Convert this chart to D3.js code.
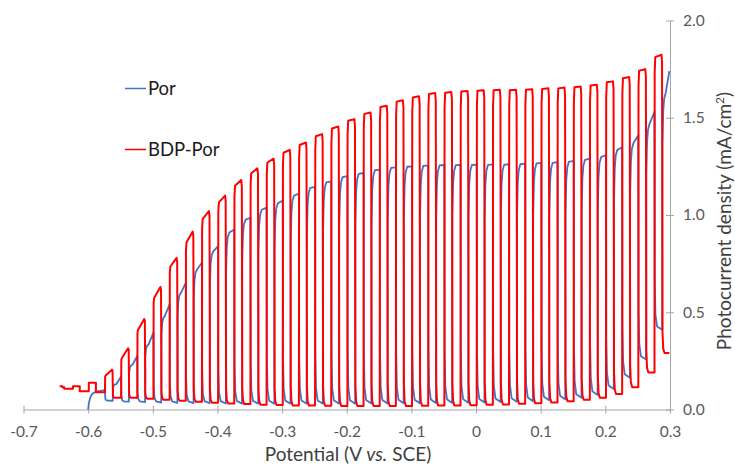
<!DOCTYPE html>
<html><head><meta charset="utf-8">
<script src="https://cdn.jsdelivr.net/npm/d3@7"></script>
<style>
body{margin:0;background:#fff}
svg{display:block}
text{font-family:Lato,"Liberation Sans",sans-serif}
</style>
</head><body>
<svg id="chart" width="735" height="464"></svg>
<script>
// ---------- data ----------
const xTicks = [-0.7, -0.6, -0.5, -0.4, -0.3, -0.2, -0.1, 0, 0.1, 0.2, 0.3];
const xTickLabels = ["-0.7","-0.6","-0.5","-0.4","-0.3","-0.2","-0.1","0","0.1","0.2","0.3"];
const yTicks = [0, 0.5, 1.0, 1.5, 2.0];
const yTickLabels = ["0.0","0.5","1.0","1.5","2.0"];
const seriesNames = ["Por", "BDP-Por"];
const seriesColors = ["#4472C4", "#FF0000"];
const scanEnd = 0.299;

// chopped light: potentials (V vs SCE) where the BDP-Por light pulse turns on / off
const chopOn = [-0.574,-0.549,-0.524,-0.499,-0.474,-0.449,-0.424,-0.399,-0.374,-0.349,
  -0.324,-0.299,-0.274,-0.249,-0.224,-0.199,-0.174,-0.149,-0.124,-0.099,
  -0.074,-0.049,-0.024,0.001,0.026,0.051,0.076,0.101,0.126,0.151,
  0.176,0.201,0.226,0.251,0.276];
const chopOff = [-0.562,-0.537,-0.512,-0.487,-0.462,-0.437,-0.412,-0.387,-0.362,-0.337,
  -0.312,-0.287,-0.262,-0.237,-0.212,-0.187,-0.162,-0.137,-0.112,-0.087,
  -0.062,-0.037,-0.012,0.013,0.038,0.063,0.088,0.113,0.138,0.163,
  0.188,0.213,0.238,0.263,0.288];

// BDP-Por (red): leading dark trace, then photocurrent at start / end of each light pulse, dark current after it
const redLeadE = [-0.644,-0.640,-0.637,-0.6235,-0.613,-0.599,-0.588];
const redLeadJ = [0.120,0.115,0.107,0.120,0.094,0.138,0.089];
const redTopStart = [0.175,0.265,0.410,0.575,0.735,0.860,0.980,1.065,1.150,1.215,
  1.270,1.320,1.360,1.405,1.445,1.485,1.520,1.555,1.583,1.604,
  1.622,1.628,1.635,1.639,1.641,1.641,1.644,1.648,1.651,1.657,
  1.666,1.682,1.703,1.742,1.812];
const redTopEnd = [0.205,0.315,0.465,0.630,0.780,0.915,1.020,1.100,1.180,1.240,
  1.290,1.335,1.373,1.416,1.455,1.493,1.527,1.562,1.590,1.610,
  1.627,1.632,1.638,1.642,1.644,1.644,1.647,1.652,1.655,1.661,
  1.670,1.687,1.709,1.750,1.824];
const redDark = [0.060,0.060,0.055,0.050,0.045,0.040,0.035,0.031,0.028,0.025,
  0.023,0.021,0.020,0.019,0.018,0.018,0.018,0.018,0.018,0.019,
  0.020,0.021,0.022,0.024,0.026,0.029,0.032,0.036,0.042,0.050,
  0.060,0.080,0.115,0.190,0.290];

// Por (blue): leading trace, dark current while the red pulse is on, photocurrent at start / end of each of its own pulses
const blueLeadE = [-0.600,-0.599,-0.597,-0.594,-0.588,-0.574];
const blueLeadJ = [0.000,0.030,0.060,0.080,0.092,0.100];
const blueDark = [0.045,0.040,0.038,0.036,0.034,0.033,0.032,0.031,0.030,0.030,
  0.030,0.030,0.030,0.030,0.030,0.030,0.031,0.031,0.032,0.032,
  0.033,0.034,0.035,0.036,0.038,0.040,0.043,0.047,0.052,0.060,
  0.075,0.105,0.163,0.257,0.410];
const blueTopStart = [0.130,0.230,0.335,0.480,0.600,0.720,0.813,0.910,0.976,1.027,
  1.060,1.100,1.140,1.168,1.195,1.212,1.230,1.242,1.248,1.253,
  1.255,1.256,1.257,1.258,1.259,1.261,1.265,1.268,1.273,1.284,
  1.298,1.335,1.370,1.470,1.630];
const blueTopEnd = [0.170,0.275,0.395,0.540,0.651,0.755,0.840,0.925,0.986,1.038,
  1.075,1.110,1.145,1.173,1.200,1.216,1.233,1.245,1.250,1.255,
  1.257,1.258,1.259,1.260,1.261,1.264,1.268,1.272,1.278,1.290,
  1.308,1.348,1.410,1.530,1.740];

// ---------- build traces ----------
function redTrace(){
  const p = [];
  for (let i = 0; i < redLeadE.length; i++){
    const nx = i + 1 < redLeadE.length ? redLeadE[i+1] : chopOn[0];
    p.push([redLeadE[i], redLeadJ[i]], [nx, redLeadJ[i]]);
  }
  let prev = redLeadJ[redLeadJ.length-1];
  for (let k = 0; k < chopOn.length; k++){
    const on = chopOn[k], off = chopOff[k], s = redTopStart[k], e = redTopEnd[k], d = redDark[k];
    const amp = e - d;
    p.push([on, prev]);
    p.push([on + 0.0003, s - 0.05*(s - prev)]);
    p.push([on + 0.0012, s]);
    p.push([off - 0.0012, e]);
    p.push([off - 0.0003, e - 0.025*amp]);
    p.push([off + 0.0004, d + 0.07*amp]);
    p.push([off + 0.0015, d + 0.015*amp]);
    p.push([off + 0.0035, d]);
    const nx = k + 1 < chopOn.length ? chopOn[k+1] : scanEnd;
    p.push([nx, d]);
    prev = d;
  }
  return p;
}
function blueTrace(){
  const p = [];
  for (let i = 0; i < blueLeadE.length; i++) p.push([blueLeadE[i], blueLeadJ[i]]);
  let prev = blueLeadJ[blueLeadJ.length-1];
  for (let k = 0; k < chopOn.length; k++){
    const on = chopOn[k], off = chopOff[k], dk = blueDark[k], s = blueTopStart[k], e = blueTopEnd[k];
    const fa = prev - dk;
    p.push([on, prev]);
    p.push([on + 0.0005, dk + 0.22*fa]);
    p.push([on + 0.0015, dk + 0.07*fa]);
    p.push([on + 0.004, dk + 0.015*fa]);
    p.push([off, dk]);
    const ra = s - dk;
    p.push([off + 0.0004, dk + 0.78*ra]);
    p.push([off + 0.0015, dk + 0.92*ra]);
    p.push([off + 0.003, dk + 0.975*ra]);
    p.push([off + 0.0055, s]);
    const nx = k + 1 < chopOn.length ? chopOn[k+1] : scanEnd;
    p.push([nx, e]);
    prev = e;
  }
  return p;
}

// ---------- draw ----------
const svg = d3.select("#chart");
const x = d3.scaleLinear().domain([-0.7, 0.3]).range([23.5, 670]);
const y = d3.scaleLinear().domain([0, 2]).range([409.5, 20.5]);
const axisColor = "#A6A6A6";

const xAxis = svg.append("g").attr("transform", `translate(0,${y(0)})`)
  .call(d3.axisBottom(x).tickValues(xTicks).tickFormat((d,i)=>xTickLabels[i]).tickSizeInner(4).tickSizeOuter(0).tickPadding(12));
xAxis.select(".domain").attr("stroke", axisColor);
xAxis.selectAll(".tick line").attr("stroke", axisColor).attr("y1", -4).attr("y2", 4);
xAxis.selectAll(".tick text").attr("fill", "#595959").attr("font-size", 15.5);

const yAxis = svg.append("g").attr("transform", `translate(${x(0.3)},0)`)
  .call(d3.axisRight(y).tickValues(yTicks).tickFormat((d,i)=>yTickLabels[i]).tickSizeInner(4).tickSizeOuter(0).tickPadding(9));
yAxis.select(".domain").attr("stroke", axisColor);
yAxis.selectAll(".tick line").attr("stroke", axisColor).attr("x1", -4).attr("x2", 4);
yAxis.selectAll(".tick text").attr("fill", "#595959").attr("font-size", 15.5);

const line = d3.line().x(d => x(d[0])).y(d => y(d[1]));
svg.append("path").datum(blueTrace()).attr("d", line)
  .attr("fill", "none").attr("stroke", seriesColors[0]).attr("stroke-width", 1.8).attr("stroke-linejoin", "round");
svg.append("path").datum(redTrace()).attr("d", line)
  .attr("fill", "none").attr("stroke", seriesColors[1]).attr("stroke-width", 2).attr("stroke-linejoin", "round");

// legend
const legendY = [88.5, 149.5];
seriesNames.forEach((n, i) => {
  svg.append("line").attr("x1", 125).attr("x2", 146).attr("y1", legendY[i]).attr("y2", legendY[i])
    .attr("stroke", seriesColors[i]).attr("stroke-width", 1.5);
  svg.append("text").attr("x", 148).attr("y", legendY[i] + 6.5).attr("font-size", 18.5)
    .attr("fill", "#1a1a1a").text(n);
});

// axis titles
const xt = svg.append("text").attr("x", 348).attr("y", 461).attr("text-anchor", "middle")
  .attr("font-size", 19).attr("fill", "#404040");
xt.append("tspan").text("Potential (V ");
xt.append("tspan").attr("font-style", "italic").text("vs.");
xt.append("tspan").text(" SCE)");

const yt = svg.append("text").attr("transform", "translate(731,221) rotate(-90)").attr("text-anchor", "middle")
  .attr("font-size", 19).attr("fill", "#404040");
yt.append("tspan").text("Photocurrent density (mA/cm");
yt.append("tspan").attr("font-size", 12).attr("dy", -7).text("2");
yt.append("tspan").attr("dy", 7).text(")");
</script>
</body></html>
